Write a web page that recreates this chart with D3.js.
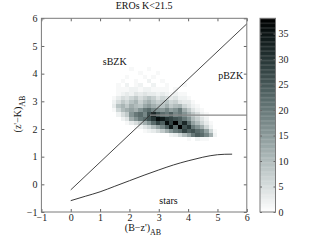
<!DOCTYPE html>
<html>
<head>
<meta charset="utf-8">
<script src="https://cdn.jsdelivr.net/npm/d3@7"></script>
<style>
  body { margin: 0; background: #fff; }
  svg text { font-family: "Liberation Serif", "Times New Roman", serif; }
</style>
</head>
<body>
<div id="chart"></div>
<script>
// canvas
var width = 316;
var height = 242;
var serif = "'Liberation Serif', 'Times New Roman', serif";

// histogram grid (data units)
var binX0 = 1.4;
var binY0 = 1.55;
var binSize = 0.15;
var countMax = 38;

// counts, bottom row first (y from 1.55 upwards), 24 columns from x = 1.4
var counts = [
  [0,0,0,0,0,0,0,0,0,0,0,0,0,0,0,0,0,1,0,2,1,1,0,0],
  [0,0,0,0,0,0,0,0,0,0,0,0,0,2,3,6,10,14,20,24,22,18,12,2],
  [0,0,0,0,0,0,0,1,2,3,5,8,12,16,20,22,28,24,26,22,20,14,6,1],
  [0,0,0,0,0,1,2,4,6,10,14,18,24,34,22,38,26,30,20,16,12,6,2,0],
  [0,0,0,1,3,5,8,12,16,22,28,24,36,28,38,24,32,22,14,10,6,3,1,0],
  [0,0,2,4,12,16,20,22,26,30,36,34,30,28,26,24,20,16,10,7,4,2,0,0],
  [0,2,5,8,16,20,22,18,26,32,26,22,20,24,18,20,16,12,8,5,2,1,0,0],
  [1,6,10,12,14,12,16,20,22,18,16,15,18,14,16,20,12,8,4,2,1,0,0,0],
  [3,9,11,8,12,10,9,13,15,12,10,9,12,8,10,11,6,4,2,1,0,0,0,0],
  [2,5,8,6,9,11,7,10,12,9,7,8,9,6,7,4,3,3,1,0,0,0,0,0],
  [1,3,5,4,6,8,5,7,9,7,4,6,5,3,4,2,2,1,0,0,0,0,0,0],
  [0,1,2,3,2,4,3,4,3,3,2,3,2,1,2,1,1,0,0,0,0,0,0,0],
  [0,1,1,1,2,2,1,2,2,1,1,1,1,0,1,0,0,0,0,0,0,0,0,0],
  [0,1,0,2,0,1,2,0,0,2,0,0,1,0,0,0,1,0,0,0,0,0,0,0],
  [0,0,1,0,0,1,0,0,2,0,0,1,0,0,0,0,0,0,0,0,0,0,0,0],
  [0,0,0,1,0,0,0,1,0,1,0,0,0,0,0,0,0,0,0,0,0,0,0,0],
  [0,0,0,0,0,0,1,0,0,0,1,0,0,0,0,0,0,0,0,0,0,0,0,0],
  [0,0,0,0,1,0,0,0,1,0,0,0,0,0,0,0,0,0,0,0,0,0,0,0]
];

// boundary lines
var bzkX = [0, 6];
var bzkY = [-0.2, 5.8];
var pbzkX = [2.7, 6];
var pbzkY = [2.5, 2.5];
var starsX = [0, 0.5, 1, 1.5, 2, 2.5, 3, 3.5, 4, 4.5, 5, 5.5];
var starsY = [-0.59, -0.43, -0.27, -0.07, 0.13, 0.33, 0.52, 0.7, 0.85, 0.98, 1.07, 1.09];

// region labels
var regionNames = ["sBZK", "pBZK", "stars"];
var regionX = [1.5, 5.45, 3.33];
var regionY = [4.45, 3.95, -0.57];

var axisTicks = [-1, 0, 1, 2, 3, 4, 5, 6];
var barTicks = [0, 5, 10, 15, 20, 25, 30, 35];

var svg = d3.select("#chart").append("svg")
  .attr("width", width)
  .attr("height", height);

var x = d3.scaleLinear().domain([-1, 6]).range([41.4, 246.8]);
var y = d3.scaleLinear().domain([-1, 6]).range([212, 18.3]);

// reversed grey map with a slight teal cast
function shade(v) {
  var t = 1 - Math.min(v, countMax) / countMax;
  var r = Math.pow(t, 1.2), g = Math.pow(t, 1.0), b = Math.pow(t, 1.0);
  return d3.rgb(r * 255, g * 255, b * 255).toString();
}

var plot = svg.append("g");

// histogram cells
var cells = [];
counts.forEach(function(row, j) {
  row.forEach(function(c, i) {
    if (c > 0) cells.push({ i: i, j: j, c: c });
  });
});

plot.selectAll("rect.cell")
  .data(cells)
  .enter()
  .append("rect")
  .attr("class", "cell")
  .attr("x", function(d) { return x(binX0 + d.i * binSize); })
  .attr("y", function(d) { return y(binY0 + (d.j + 1) * binSize); })
  .attr("width", function(d) { return x(binX0 + (d.i + 1) * binSize) - x(binX0 + d.i * binSize); })
  .attr("height", function(d) { return y(binY0 + d.j * binSize) - y(binY0 + (d.j + 1) * binSize); })
  .attr("fill", function(d) { return shade(d.c); })
  .attr("shape-rendering", "crispEdges");

var line = d3.line()
  .x(function(d) { return x(d[0]); })
  .y(function(d) { return y(d[1]); });

plot.append("path")
  .attr("d", line(d3.zip(bzkX, bzkY)))
  .attr("fill", "none").attr("stroke", "#333").attr("stroke-width", 0.9);

plot.append("path")
  .attr("d", line(d3.zip(pbzkX, pbzkY)))
  .attr("fill", "none").attr("stroke", "#8a8a8a").attr("stroke-width", 1.3);

plot.append("path")
  .attr("d", line.curve(d3.curveNatural)(d3.zip(starsX, starsY)))
  .attr("fill", "none").attr("stroke", "#222").attr("stroke-width", 0.9);

plot.selectAll("text.region")
  .data(regionNames)
  .enter()
  .append("text")
  .attr("class", "region")
  .attr("x", function(d, i) { return x(regionX[i]); })
  .attr("y", function(d, i) { return y(regionY[i]); })
  .attr("dy", "0.35em")
  .attr("text-anchor", "middle")
  .attr("font-family", serif)
  .attr("font-size", 10)
  .attr("fill", "#111")
  .text(function(d) { return d; });

// axes (ticks inside, on all four sides)
var fmt = function(d) { return d < 0 ? "\u2212" + Math.abs(d) : d; };
function styleAxis(g, labels) {
  g.attr("font-family", serif);
  g.select(".domain").remove();
  g.selectAll(".tick line").attr("stroke", "#666");
  g.selectAll(".tick text").attr("font-size", 10).attr("fill", "#222")
    .attr("font-family", serif);
  if (!labels) g.selectAll(".tick text").remove();
}

svg.append("g").attr("transform", "translate(0," + y(-1) + ")")
  .call(d3.axisBottom(x).tickValues(axisTicks).tickFormat(fmt).tickSizeInner(-3).tickSizeOuter(0).tickPadding(2))
  .call(styleAxis, true);
svg.append("g").attr("transform", "translate(0," + y(6) + ")")
  .call(d3.axisTop(x).tickValues(axisTicks).tickSizeInner(-3).tickSizeOuter(0))
  .call(styleAxis, false);
svg.append("g").attr("transform", "translate(" + x(-1) + ",0)")
  .call(d3.axisLeft(y).tickValues(axisTicks).tickFormat(fmt).tickSizeInner(-3).tickSizeOuter(0).tickPadding(4))
  .call(styleAxis, true);
svg.append("g").attr("transform", "translate(" + x(6) + ",0)")
  .call(d3.axisRight(y).tickValues(axisTicks).tickSizeInner(-3).tickSizeOuter(0))
  .call(styleAxis, false);

svg.append("rect")
  .attr("x", x(-1)).attr("y", y(6))
  .attr("width", x(6) - x(-1)).attr("height", y(-1) - y(6))
  .attr("fill", "none").attr("stroke", "#7a7a7a").attr("stroke-width", 1);

// title and axis labels
svg.append("text")
  .attr("x", (x(-1) + x(6)) / 2).attr("y", 9)
  .attr("text-anchor", "middle").attr("font-size", 10).attr("fill", "#111")
  .attr("font-family", serif)
  .text("EROs K<21.5");

var xl = svg.append("text")
  .attr("x", 143).attr("y", 231)
  .attr("text-anchor", "middle").attr("font-size", 10).attr("fill", "#111")
  .attr("font-family", serif);
xl.append("tspan").text("(B\u2212z')");
xl.append("tspan").attr("font-size", 8).attr("dy", 4).text("AB");

var yl = svg.append("text")
  .attr("transform", "translate(21,114) rotate(-90)")
  .attr("text-anchor", "middle").attr("font-size", 10).attr("fill", "#111")
  .attr("font-family", serif);
yl.append("tspan").text("(z'\u2212K)");
yl.append("tspan").attr("font-size", 8).attr("dy", 4).text("AB");

// colour bar
var cb = svg.append("g");
var cy = d3.scaleLinear().domain([0, countMax]).range([212, 18.3]);
var cbX = 260, cbW = 15.5;
var steps = d3.range(0, countMax, 0.25);
cb.selectAll("rect.step")
  .data(steps)
  .enter()
  .append("rect")
  .attr("class", "step")
  .attr("x", cbX)
  .attr("y", function(d) { return cy(d + 0.25); })
  .attr("width", cbW)
  .attr("height", function(d) { return cy(d) - cy(d + 0.25) + 0.3; })
  .attr("fill", function(d) { return shade(d + 0.125); });

var cbAxis = cb.append("g").attr("transform", "translate(" + (cbX + cbW) + ",0)")
  .call(d3.axisRight(cy).tickValues(barTicks).tickSizeInner(-2).tickSizeOuter(0).tickPadding(3));
cbAxis.select(".domain").remove();
cbAxis.selectAll(".tick line").attr("stroke", "#666");
cbAxis.selectAll(".tick text").attr("font-size", 10).attr("fill", "#222")
  .attr("font-family", serif);
var cbAxisL = cb.append("g").attr("transform", "translate(" + cbX + ",0)")
  .call(d3.axisLeft(cy).tickValues(barTicks).tickSizeInner(-2).tickSizeOuter(0).tickFormat(""));
cbAxisL.select(".domain").remove();
cbAxisL.selectAll(".tick line").attr("stroke", "#666");

cb.append("rect")
  .attr("x", cbX).attr("y", cy(countMax))
  .attr("width", cbW).attr("height", cy(0) - cy(countMax))
  .attr("fill", "none").attr("stroke", "#7a7a7a").attr("stroke-width", 1);
</script>
</body>
</html>
